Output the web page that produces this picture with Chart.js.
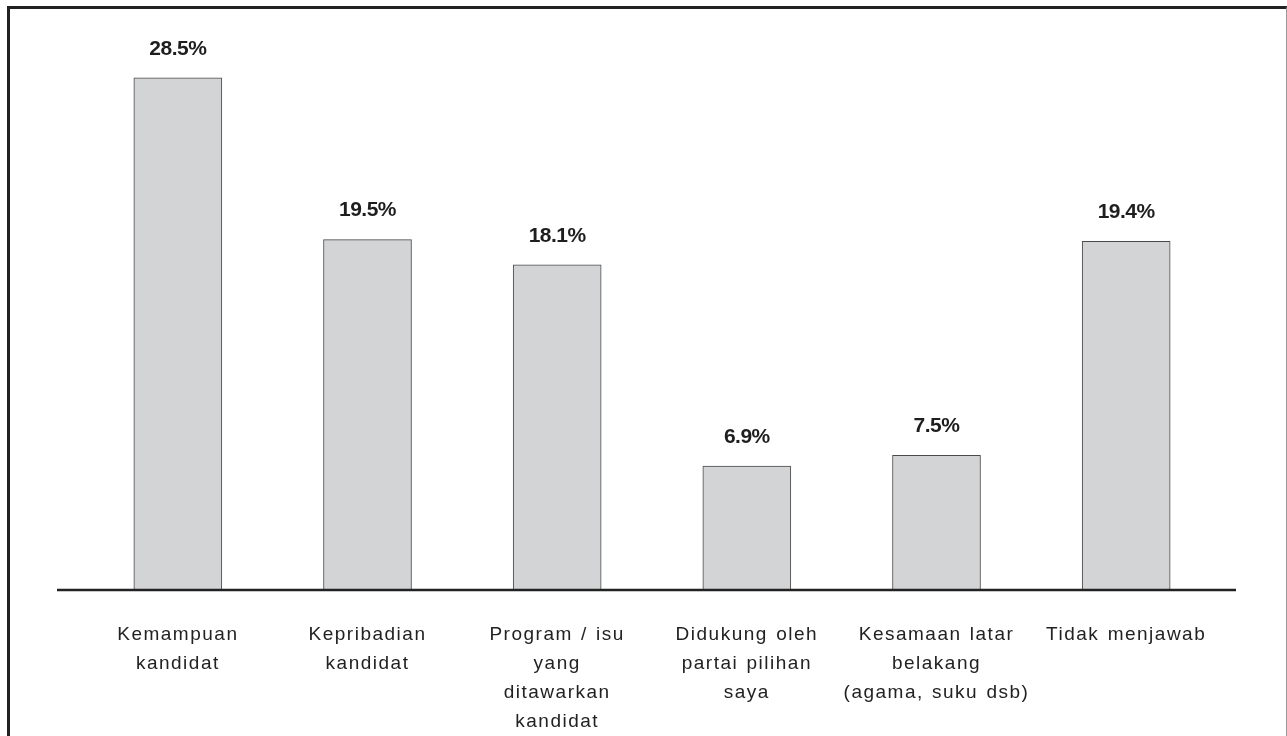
<!DOCTYPE html>
<html>
<head>
<meta charset="utf-8">
<script src="https://cdn.jsdelivr.net/npm/chart.js@4"></script>
<style>
    html, body { margin: 0; padding: 0; background: #fff; }
    #wrap { position: relative; width: 1287px; height: 736px; overflow: hidden; }
    #frame {
        position: absolute; left: 7px; top: 6px; width: 1276px; height: 800px;
        border-left: 3px solid #222; border-top: 3px solid #222; border-right: 1px solid #999;
        pointer-events: none;
    }
    canvas { position: absolute; left: 0; top: 0; }
</style>
</head>
<body>
<div id="wrap">
    <canvas id="chart" width="1287" height="736"></canvas>
    <div id="frame"></div>
</div>
<script>
// --- Data ----------------------------------------------------------------

const categories = [
    ['Kemampuan', 'kandidat'],
    ['Kepribadian', 'kandidat'],
    ['Program / isu', 'yang', 'ditawarkan', 'kandidat'],
    ['Didukung oleh', 'partai pilihan', 'saya'],
    ['Kesamaan latar', 'belakang', '(agama, suku dsb)'],
    ['Tidak menjawab'],
];
const values = [28.5, 19.5, 18.1, 6.9, 7.5, 19.4];
const valueLabels = ['28.5%', '19.5%', '18.1%', '6.9%', '7.5%', '19.4%'];

// --- Plugins -------------------------------------------------------------

// spaced-out category labels
const letterSpacing = {
    id: 'letterSpacing',
    beforeDraw(chart) {
        chart.ctx.letterSpacing = '1.5px';
        chart.ctx.wordSpacing = '1.5px';
    },
};

// baseline runs a bit past the plot area on both sides
const baseline = {
    id: 'baseline',
    afterDatasetsDraw(chart) {
        const { ctx, chartArea, scales } = chart;
        const y = scales.y.getPixelForValue(0);
        ctx.save();
        ctx.strokeStyle = '#222';
        ctx.lineWidth = 2.5;
        ctx.beginPath();
        ctx.moveTo(chartArea.left - 26, y);
        ctx.lineTo(chartArea.right + 15, y);
        ctx.stroke();
        ctx.restore();
    },
};

const barValues = {
    id: 'barValues',
    afterDatasetsDraw(chart) {
        const { ctx } = chart;
        const meta = chart.getDatasetMeta(0);
        ctx.save();
        ctx.letterSpacing = '-0.5px';
        ctx.wordSpacing = '0px';
        ctx.font = 'bold 21px "Liberation Sans", Arial, sans-serif';
        ctx.fillStyle = '#1e1e1e';
        ctx.textAlign = 'center';
        ctx.textBaseline = 'middle';
        meta.data.forEach((bar, i) => {
            ctx.fillText(valueLabels[i], bar.x, bar.y - 29);
        });
        ctx.restore();
    },
};

// --- Chart ---------------------------------------------------------------

new Chart(document.getElementById('chart'), {
    type: 'bar',
    data: {
        labels: categories,
        datasets: [
            {
                data: values,
                backgroundColor: '#d3d4d6',
                borderColor: '#4a4a4a',
                borderWidth: 1,
                barThickness: 88,
            },
        ],
    },
    options: {
        responsive: false,
        animation: false,
        layout: { padding: { left: 83, right: 66, top: 51, bottom: 0 } },
        plugins: {
            legend: { display: false },
            tooltip: { enabled: false },
        },
        scales: {
            x: {
                grid: { display: false, drawTicks: false },
                border: { display: false },
                ticks: {
                    color: '#222',
                    padding: 30,
                    autoSkip: false,
                    maxRotation: 0,
                    font: { family: '"Liberation Sans", Arial, sans-serif', size: 19, lineHeight: 1.53 },
                },
                afterFit(scale) { scale.height = 146; },
            },
            y: {
                display: false,
                min: 0,
                max: 30,
            },
        },
    },
    plugins: [letterSpacing, baseline, barValues],
});
</script>
</body>
</html>
